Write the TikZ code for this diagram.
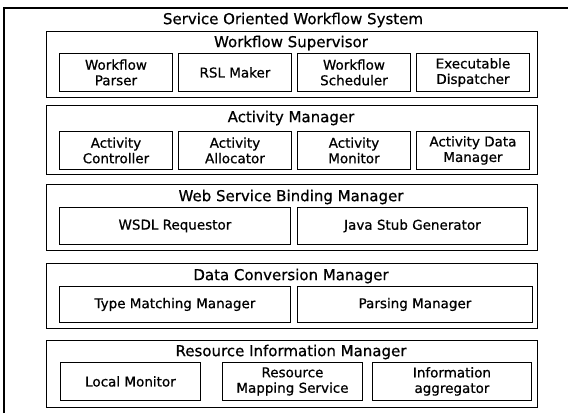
\documentclass[tikz,border=0pt]{standalone}
\usepackage{fontspec}
\setmainfont[FakeBold=0.7]{DejaVu Sans}
\newcommand\mybox[7][sub]{\node[#1, minimum width={(#5-#3)*1pt}, minimum height={(#6-#4)*1pt}, anchor=north west] (#2) at (#3,#4) {#7};}
\begin{document}
\begin{tikzpicture}[x=1pt,y=-1pt,
  layer/.style={draw, line width=1.1pt, inner sep=0pt},
  sub/.style={draw, line width=0.9pt, inner sep=0pt, align=center, font=\fontsize{13.5}{15.5}\selectfont},
  ttl/.style={inner sep=0pt, font=\fontsize{15}{17}\selectfont}]
\useasboundingbox (0,0) rectangle (568,413);
\fill[white] (0,0) rectangle (568,413);
% outer frame (cropped at right and bottom)
\coordinate (oa) at (4,413);
\coordinate (ob) at (4,8);
\coordinate (oc) at (568,8);
\draw[line width=1.1pt] (oa) -- (ob) -- (oc);
\node[ttl] (title) at (293,20) {Service Oriented Workflow System};
% Layer 1
\mybox[layer]{L1}{46}{31}{537}{97}{}
\node[ttl] (L1t) at (291,43) {Workflow Supervisor};
\mybox{wp}{59}{53}{172}{91}{Workflow\\Parser}
\mybox{rsl}{178}{53}{291}{91}{RSL Maker}
\mybox{ws}{297}{53}{410}{91}{Workflow\\Scheduler}
\mybox{ed}{416}{53}{529}{91}{Executable\\Dispatcher}
% Layer 2
\mybox[layer]{L2}{46}{105}{537}{174}{}
\node[ttl] (L2t) at (291,118) {Activity Manager};
\mybox{ac}{59}{131}{172}{169}{Activity\\Controller}
\mybox{aa}{178}{131}{291}{169}{Activity\\Allocator}
\mybox{am}{297}{131}{410}{169}{Activity\\Monitor}
\mybox{adm}{416}{131}{529}{169}{Activity Data\\Manager}
% Layer 3
\mybox[layer]{L3}{46}{184}{537}{250}{}
\node[ttl] (L3t) at (291,197) {Web Service Binding Manager};
\mybox{wsdl}{59}{207}{290}{244}{WSDL Requestor}
\mybox{jsg}{297}{207}{527}{244}{Java Stub Generator}
% Layer 4
\mybox[layer]{L4}{46}{263}{537}{328}{}
\node[ttl] (L4t) at (291,276) {Data Conversion Manager};
\mybox{tmm}{59}{286}{290}{322}{Type Matching Manager}
\mybox{pm}{297}{286}{532}{322}{Parsing Manager}
% Layer 5
\mybox[layer]{L5}{46}{340}{537}{407}{}
\node[ttl] (L5t) at (291,352) {Resource Information Manager};
\mybox{lm}{60}{362}{200}{400}{Local Monitor}
\mybox{rms}{222}{362}{362}{400}{Resource\\Mapping Service}
\mybox{ia}{372}{362}{531}{400}{Information\\aggregator}
\end{tikzpicture}
\end{document}
